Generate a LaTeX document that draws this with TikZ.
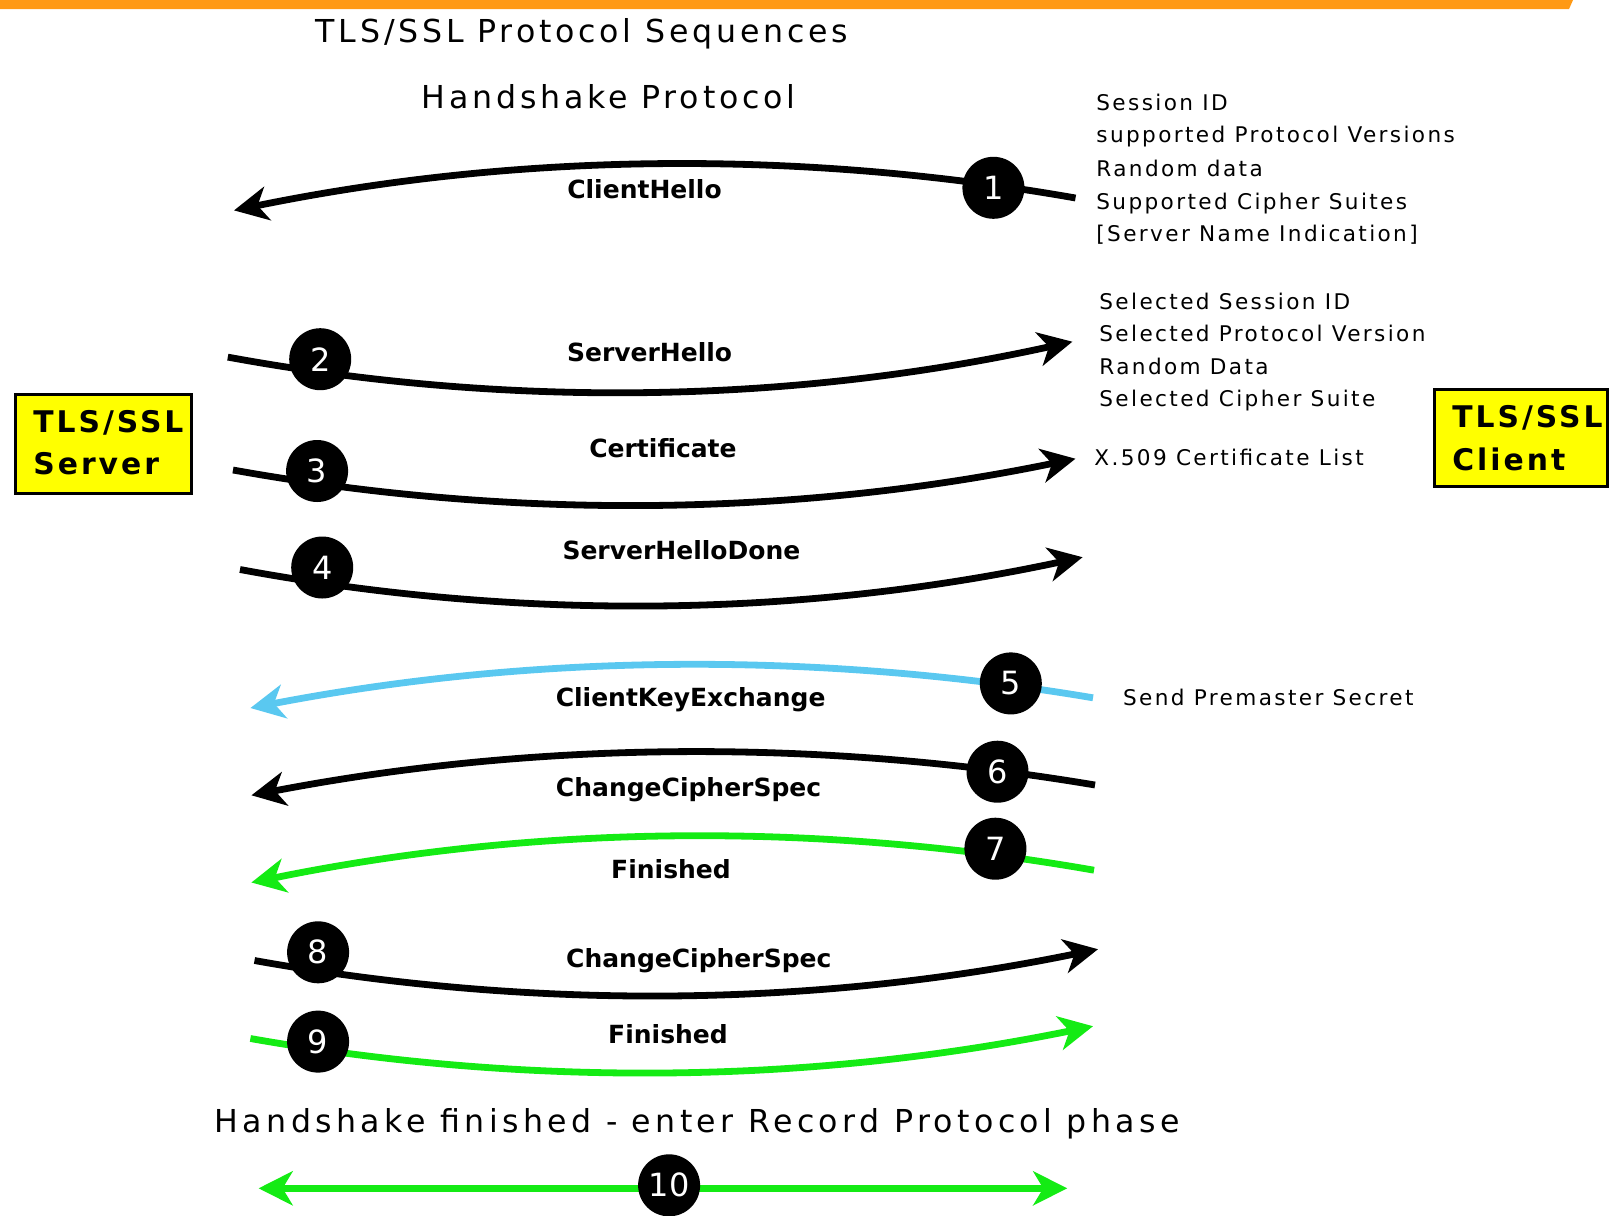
\documentclass[tikz,border=0pt]{standalone}
\usepackage{fontspec}
\setmainfont{DejaVu Sans}
\newfontfamily\bigf[LetterSpace=12]{DejaVu Sans}
\newfontfamily\bigwf[LetterSpace=14]{DejaVu Sans}
\newfontfamily\smf[LetterSpace=11]{DejaVu Sans}
\newfontfamily\boxfont[LetterSpace=10]{DejaVu Sans Bold}
\newfontfamily\labf{DejaVu Sans Bold}
\usetikzlibrary{arrows.meta,calc}
\definecolor{barorange}{RGB}{255,153,20}
\definecolor{tlsgreen}{RGB}{20,235,20}
\definecolor{tlsblue}{RGB}{90,200,240}
\definecolor{boxyellow}{RGB}{255,255,0}
\begin{document}
\begin{tikzpicture}[x=0.5pt,y=-0.5pt,
  >={Stealth[length=17pt,width=17pt,inset=5pt]},
  msg/.style={line width=3.4pt,->},
  numc/.style={circle,fill=black,minimum size=31pt,inner sep=0pt,text=white,font=\fontsize{16}{16}\selectfont},
  lab/.style={font=\labf\fontsize{12.5}{15}\selectfont,anchor=base,inner sep=0pt},
  rtxt/.style={font=\smf\fontsize{10.8}{13}\selectfont,anchor=base west,inner sep=0pt},
  bigtxt/.style={font=\bigf\fontsize{15.8}{19}\selectfont,anchor=base,inner sep=0pt},
  tlsbox/.style={draw=black,line width=1.5pt,fill=boxyellow,inner sep=0pt},
  boxtxt/.style={font=\boxfont\fontsize{14.9}{18}\selectfont,anchor=base west,inner sep=0pt}]
\useasboundingbox (0,0) rectangle (1609,1215);
\fill[barorange] (0,0) -- (1573,0) -- (1569,9) -- (0,9) -- cycle;

% titles
\node[bigtxt] (title) at (581.9,42) {TLS/SSL Protocol Sequences};
\node[bigtxt] (hsp) at (608.5,108.3) {Handshake Protocol};
\node[bigtxt,font=\bigwf\fontsize{15.8}{19}\selectfont] (hsf) at (697.3,1132) {Handshake finished - enter Record Protocol phase};

% boxes
\node[tlsbox,minimum width=88.25pt,minimum height=49.5pt] (server) at (103.6,443.5) {};
\node[boxtxt] (servert1) at (33,432) {TLS/SSL};
\node[boxtxt] (servert2) at (33,474) {Server};
\node[tlsbox,minimum width=86.2pt,minimum height=48.7pt] (client) at (1520.8,437.7) {};
\node[boxtxt] (clientt1) at (1452,427) {TLS/SSL};
\node[boxtxt] (clientt2) at (1452,470) {Client};

% coordinates of message arrows (a = start, q = quadratic control, b = tip)
\coordinate (a1) at (1075.5,198);   \coordinate (q1) at (654.8,124.2);  \coordinate (b1) at (234,210.4);
\coordinate (a2) at (227.8,357.1);  \coordinate (q2) at (650.1,434.6);  \coordinate (b2) at (1072.4,341.7);
\coordinate (a3) at (233,470);      \coordinate (q3) at (654.3,545.5);  \coordinate (b3) at (1075.5,458.7);
\coordinate (a4) at (240,569.5);    \coordinate (q4) at (661.3,647.4);  \coordinate (b4) at (1082.6,557.2);
\coordinate (a5) at (1093,697.8);   \coordinate (q5) at (671.7,626.9);  \coordinate (b5) at (250.4,708);
\coordinate (a6) at (1095,785);     \coordinate (q6) at (673.2,714.2);  \coordinate (b6) at (251.4,795.3);
\coordinate (a7) at (1094,870.2);   \coordinate (q7) at (672.7,796.4);  \coordinate (b7) at (251.4,882.5);
\coordinate (a8) at (254.5,960.5);  \coordinate (q8) at (676.3,1035.9); \coordinate (b8) at (1098,949.2);
\coordinate (a9) at (250.4,1038.5); \coordinate (q9) at (671.7,1112.4); \coordinate (b9) at (1093,1026.2);
\coordinate (a10) at (258.6,1188.3); \coordinate (b10) at (1067.2,1188.3);

\foreach \i/\c in {1/black,2/black,3/black,4/black,5/tlsblue,6/black,7/tlsgreen,8/black,9/tlsgreen}{
  \draw[msg,\c] (a\i) .. controls ($(a\i)!2/3!(q\i)$) and ($(b\i)!2/3!(q\i)$) .. (b\i);
}
\draw[msg,tlsgreen,<->] (a10) -- (b10);

% numbered circles
\node[numc] (n1) at (993.4,187.8) {1};
\node[numc] (n2) at (320.2,359.2) {2};
\node[numc] (n3) at (317.1,471) {3};
\node[numc] (n4) at (322.2,567.5) {4};
\node[numc] (n5) at (1010.8,683.4) {5};
\node[numc] (n6) at (997.5,771.7) {6};
\node[numc] (n7) at (995.4,848.7) {7};
\node[numc] (n8) at (318.1,952.3) {8};
\node[numc] (n9) at (318.1,1041.6) {9};
\node[numc] (n10) at (669.1,1185.3) {10};

% message labels
\node[lab] (l1) at (644.5,198.3) {ClientHello};
\node[lab] (l2) at (649.6,361.5) {ServerHello};
\node[lab] (l3) at (663,457) {Certificate};
\node[lab] (l4) at (681.4,559.5) {ServerHelloDone};
\node[lab] (l5) at (690.6,706.3) {ClientKeyExchange};
\node[lab] (l6) at (688.6,796.5) {ChangeCipherSpec};
\node[lab] (l7) at (671,878.7) {Finished};
\node[lab] (l8) at (698.8,967) {ChangeCipherSpec};
\node[lab] (l9) at (668,1043.9) {Finished};

% right-hand notes
\node[rtxt] (r1a) at (1096,110.6) {Session ID};
\node[rtxt] (r1b) at (1096,142.4) {supported Protocol Versions};
\node[rtxt] (r1c) at (1096,176.3) {Random data};
\node[rtxt] (r1d) at (1096,209.1) {Supported Cipher Suites};
\node[rtxt] (r1e) at (1096,241) {[Server Name Indication]};
\node[rtxt] (r2a) at (1099,309.7) {Selected Session ID};
\node[rtxt] (r2b) at (1099,341.5) {Selected Protocol Version};
\node[rtxt] (r2c) at (1099,374.4) {Random Data};
\node[rtxt] (r2d) at (1099,406.2) {Selected Cipher Suite};
\node[rtxt] (r3) at (1094,465.7) {X.509 Certificate List};
\node[rtxt] (r5) at (1122.7,705.8) {Send Premaster Secret};
\end{tikzpicture}
\end{document}
